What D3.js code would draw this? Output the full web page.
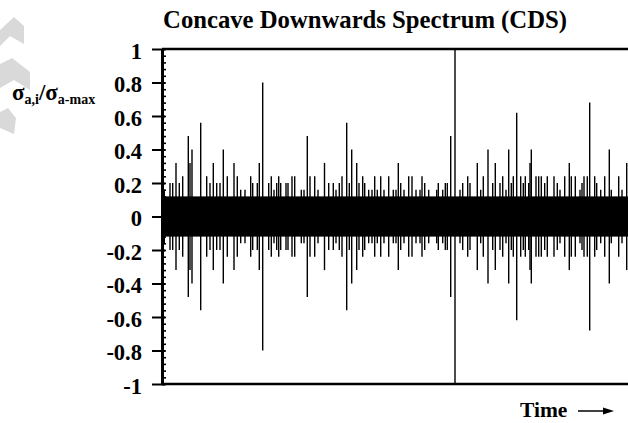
<!DOCTYPE html>
<html>
<head>
<meta charset="utf-8">
<script src="https://cdn.jsdelivr.net/npm/d3@7"></script>
<style>
  body { margin: 0; background: #fff; }
  svg { display: block; }
  text { font-family: "Liberation Serif", "Times New Roman", serif; font-weight: bold; fill: #000; }
</style>
</head>
<body>
<div id="chart"></div>
<script>
let width = 628,
    height = 423,
    margin = ({ top: 49, right: -12, bottom: 39, left: 162 });

// sample index of each spike, and its amplitude (the signal swings to +a and -a)
const spikeTime = [2.3, 8, 10.7, 14, 17.3, 20.7, 26.3, 28, 30, 38.7, 44.7, 48, 51.3, 54.7, 58, 61.3, 65.3,
  72, 75.3, 78.7, 83, 88.7, 90.7, 95.3, 97.3, 100.7, 106.7, 109.3, 112, 114.7, 116.7, 118.7, 124, 126,
  130, 132.7, 139.3, 142, 145.3, 148,
  152.7, 156, 162.5, 166.7, 171.3, 174, 177.3, 180, 184.7, 187.3, 189.7, 194.7, 197, 200.7, 202.7,
  206.7, 210, 212.7, 215.3, 218.7, 222, 226.7,
  231.3, 234, 236.3, 238.7, 242, 246.7, 250, 254, 258, 260, 262.7, 266.7, 274.7, 276.3, 280.7, 283.3,
  285.3, 288.7, 293, 298, 300.7, 305.7,
  308, 315.3, 318.7, 321.3, 326, 330.7, 333.3, 338, 340.7, 344, 346.7, 349.3, 351.3, 354.7, 358.7,
  361.3, 363.3, 366.7, 368, 369.3, 374, 376.7, 379.3, 382.7, 385.3,
  392, 395.3, 398, 402.7, 407.3, 409.3, 413.3, 418, 420, 422, 425.3, 427.7, 432.7, 434.7, 438.7,
  442.7, 447.3, 449.3, 456.7, 460, 464.7];
const spikeAmp = [0.16, 0.2, 0.2, 0.32, 0.2, 0.24, 0.48, 0.32, 0.4, 0.56, 0.24, 0.2, 0.32, 0.2, 0.2, 0.4, 0.24,
  0.32, 0.24, 0.16, 0.16, 0.24, 0.2, 0.2, 0.32, 0.8, 0.2, 0.24, 0.16, 0.2, 0.24, 0.2, 0.2, 0.2,
  0.24, 0.24, 0.16, 0.16, 0.48, 0.24,
  0.24, 0.16, 0.32, 0.2, 0.2, 0.16, 0.2, 0.24, 0.56, 0.2, 0.4, 0.32, 0.2, 0.24, 0.2,
  0.16, 0.16, 0.24, 0.16, 0.24, 0.16, 0.24,
  0.16, 0.16, 0.32, 0.2, 0.16, 0.24, 0.24, 0.16, 0.16, 0.24, 0.2, 0.16, 0.16, 0.2, 0.16, 0.2,
  0.2, 0.48, 1.0, 0.16, 0.2, 0.24,
  0.2, 0.32, 0.16, 0.24, 0.4, 0.2, 0.32, 0.2, 0.24, 0.16, 0.4, 0.2, 0.24, 0.62, 0.24,
  0.2, 0.24, 0.2, 0.32, 0.4, 0.24, 0.24, 0.24, 0.2, 0.24,
  0.24, 0.2, 0.16, 0.24, 0.32, 0.24, 0.24, 0.16, 0.2, 0.24, 0.24, 0.68, 0.24, 0.2, 0.16,
  0.24, 0.4, 0.16, 0.24, 0.16, 0.32];
const baseAmp = 0.12;      // dense background oscillation
const timeExtent = [0, 478];
const yMajor = [-1, -0.8, -0.6, -0.4, -0.2, 0, 0.2, 0.4, 0.6, 0.8, 1];
const yMinor = d3.range(-100, 101, 4).map(d => d / 100);

const svg = d3.select("#chart")
  .append("svg")
  .attr("width", width)
  .attr("height", height);

// faint grey marks at the left edge
const ghost = [
  [[0, 30], [14, 17], [24, 26], [24, 44], [10, 36], [0, 46]],
  [[0, 64], [12, 58], [30, 72], [30, 90], [14, 80], [0, 88]],
  [[0, 112], [8, 108], [16, 118], [14, 134], [0, 128]]
];
svg.selectAll(".ghost")
  .data(ghost)
  .join("path")
  .attr("class", "ghost")
  .attr("fill", "#d9d9d9")
  .attr("d", d => "M" + d.join("L") + "Z");

let x = d3.scaleLinear()
  .domain(timeExtent)
  .range([margin.left, width - margin.right]);

let y = d3.scaleLinear()
  .domain([-1, 1])
  .range([height - margin.bottom, margin.top]);

// background band
svg.append("rect")
  .attr("x", x(timeExtent[0]))
  .attr("width", x(timeExtent[1]) - x(timeExtent[0]))
  .attr("y", y(baseAmp))
  .attr("height", y(-baseAmp) - y(baseAmp))
  .attr("fill", "#000");

let spikes = spikeTime.map((t, i) => ({ t: t, a: spikeAmp[i] }));

svg.append("g")
  .selectAll("line")
  .data(spikes)
  .join("line")
  .attr("x1", d => x(d.t))
  .attr("x2", d => x(d.t))
  .attr("y1", d => y(d.a))
  .attr("y2", d => y(-d.a))
  .attr("stroke", "#000")
  .attr("stroke-width", 1.4);

// top and bottom frame lines
svg.append("g")
  .selectAll("line")
  .data([1, -1])
  .join("line")
  .attr("x1", x(timeExtent[0]))
  .attr("x2", x(timeExtent[1]))
  .attr("y1", d => y(d))
  .attr("y2", d => y(d))
  .attr("stroke", "#000")
  .attr("stroke-width", 2.5);

// minor ticks (inside)
svg.append("g")
  .attr("transform", `translate(${margin.left},0)`)
  .call(d3.axisLeft(y).tickValues(yMinor).tickSize(-4).tickFormat(""))
  .call(g => g.select(".domain").remove())
  .call(g => g.selectAll(".tick line").attr("stroke-width", 1.6));

// major ticks + labels (plain hyphen for negatives)
svg.append("g")
  .attr("transform", `translate(${margin.left},0)`)
  .call(d3.axisLeft(y).tickValues(yMajor).tickSizeInner(10).tickSizeOuter(0).tickPadding(10)
    .tickFormat(d => String(d)))
  .call(g => g.select(".domain").attr("stroke-width", 3))
  .call(g => g.selectAll(".tick line").attr("x1", 3).attr("stroke-width", 2))
  .call(g => g.selectAll(".tick text")
    .attr("dy", "0.42em")
    .style("font-size", "22.5px")
    .style("font-family", '"Liberation Serif", serif')
    .style("font-weight", "bold"));

svg.append("text")
  .attr("x", 365)
  .attr("y", 28)
  .attr("text-anchor", "middle")
  .style("font-size", "24.7px")
  .text("Concave Downwards Spectrum (CDS)");

// y label: sigma a,i / sigma a-max
let yl = svg.append("text")
  .attr("x", 12)
  .attr("y", 100)
  .style("font-size", "23px");
yl.append("tspan").text("σ");
yl.append("tspan").attr("dy", 4).style("font-size", "14px").text("a,i");
yl.append("tspan").attr("dy", -4).text("/σ");
yl.append("tspan").attr("dy", 4).style("font-size", "14px").text("a-max");

svg.append("text")
  .attr("x", 520)
  .attr("y", 417)
  .style("font-size", "21.5px")
  .text("Time");

svg.append("line")
  .attr("x1", 578).attr("x2", 605)
  .attr("y1", 411).attr("y2", 411)
  .attr("stroke", "#000")
  .attr("stroke-width", 1.5);
svg.append("path")
  .attr("d", "M603,407.5L614,411L603,414.5Z")
  .attr("fill", "#000");
</script>
</body>
</html>
